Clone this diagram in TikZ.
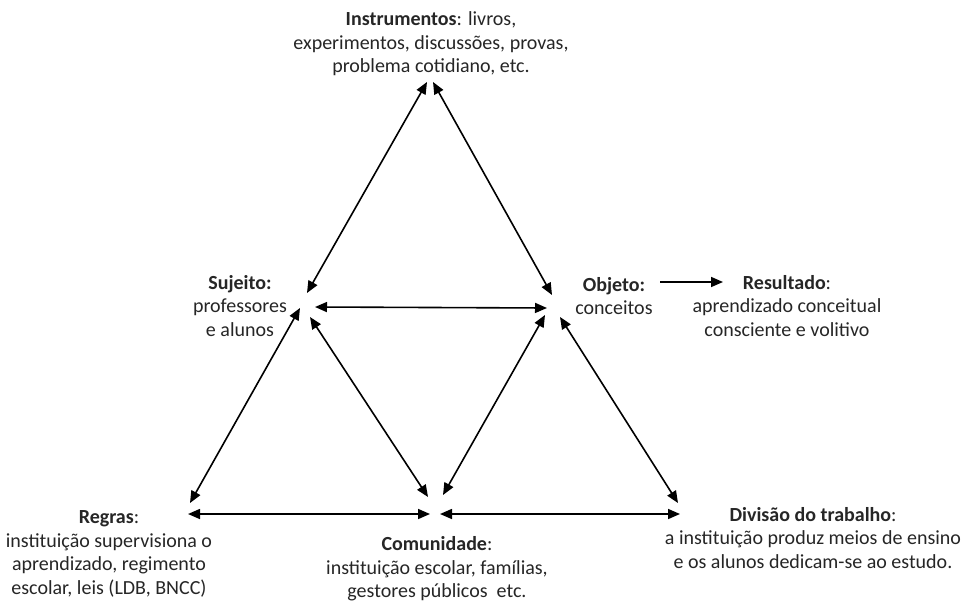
\documentclass[tikz,border=0pt]{standalone}
\usepackage{fontspec}
\setmainfont{Carlito}
\usetikzlibrary{arrows.meta}
\definecolor{txt}{HTML}{262626}
\begin{document}
\begin{tikzpicture}[x=1pt,y=-1pt,
  label/.style={align=center,text=txt,inner sep=0pt,font=\fontsize{20}{23.5}\selectfont},
  link/.style={line width=1.6pt,{Triangle[length=12pt,width=10pt]}-{Triangle[length=12pt,width=10pt]}},
  flow/.style={line width=1.6pt,-{Triangle[length=12pt,width=10pt]}}]
\useasboundingbox[fill=white] (0,0) rectangle (965,602);

% labels of the activity system
\node[label] (instr) at (431,44) {\textbf{Instrumentos}: livros,\\experimentos, discussões, provas,\\problema cotidiano, etc.};
\node[label] (suj) at (240,306) {\textbf{Sujeito:}\\professores\\e alunos};
\node[label] (obj) at (614,296) {\textbf{Objeto:}\\conceitos};
\node[label] (res) at (787,306) {\textbf{Resultado}:\\aprendizado conceitual\\consciente e volitivo};
\node[label] (reg) at (109,554) {\textbf{Regras}:\\instituição supervisiona o\\aprendizado, regimento\\escolar, leis (LDB, BNCC)};
\node[label] (com) at (437,569) {\textbf{Comunidade}:\\instituição escolar, famílias,\\gestores públicos\ \ etc.};
\node[label] (div) at (813,538) {\textbf{Divisão do trabalho}:\\a instituição produz meios de ensino\\e os alunos dedicam-se ao estudo.};

% arrow end points around each vertex
\coordinate (iL) at (427,82);   \coordinate (iR) at (433,82);
\coordinate (sT) at (307,293);  \coordinate (sE) at (315,307);
\coordinate (sL) at (300,308);  \coordinate (sD) at (310,317);
\coordinate (oT) at (552,295);  \coordinate (oW) at (547,308);
\coordinate (oL) at (545,315);  \coordinate (oR) at (560,317);
\coordinate (oX) at (660,282);  \coordinate (rX) at (723,282);
\coordinate (gU) at (190,503);  \coordinate (gE) at (188,514);
\coordinate (cL) at (428,497);  \coordinate (cR) at (443,495);
\coordinate (cW) at (430,514);  \coordinate (cE) at (440,514);
\coordinate (dU) at (678,503);  \coordinate (dW) at (680,514);

% connectors
\draw[link] (sT) -- (iL);
\draw[link] (iR) -- (oT);
\draw[link] (sE) -- (oW);
\draw[link] (sL) -- (gU);
\draw[link] (sD) -- (cL);
\draw[link] (oL) -- (cR);
\draw[link] (oR) -- (dU);
\draw[link] (gE) -- (cW);
\draw[link] (cE) -- (dW);
\draw[flow] (oX) -- (rX);
\end{tikzpicture}
\end{document}
